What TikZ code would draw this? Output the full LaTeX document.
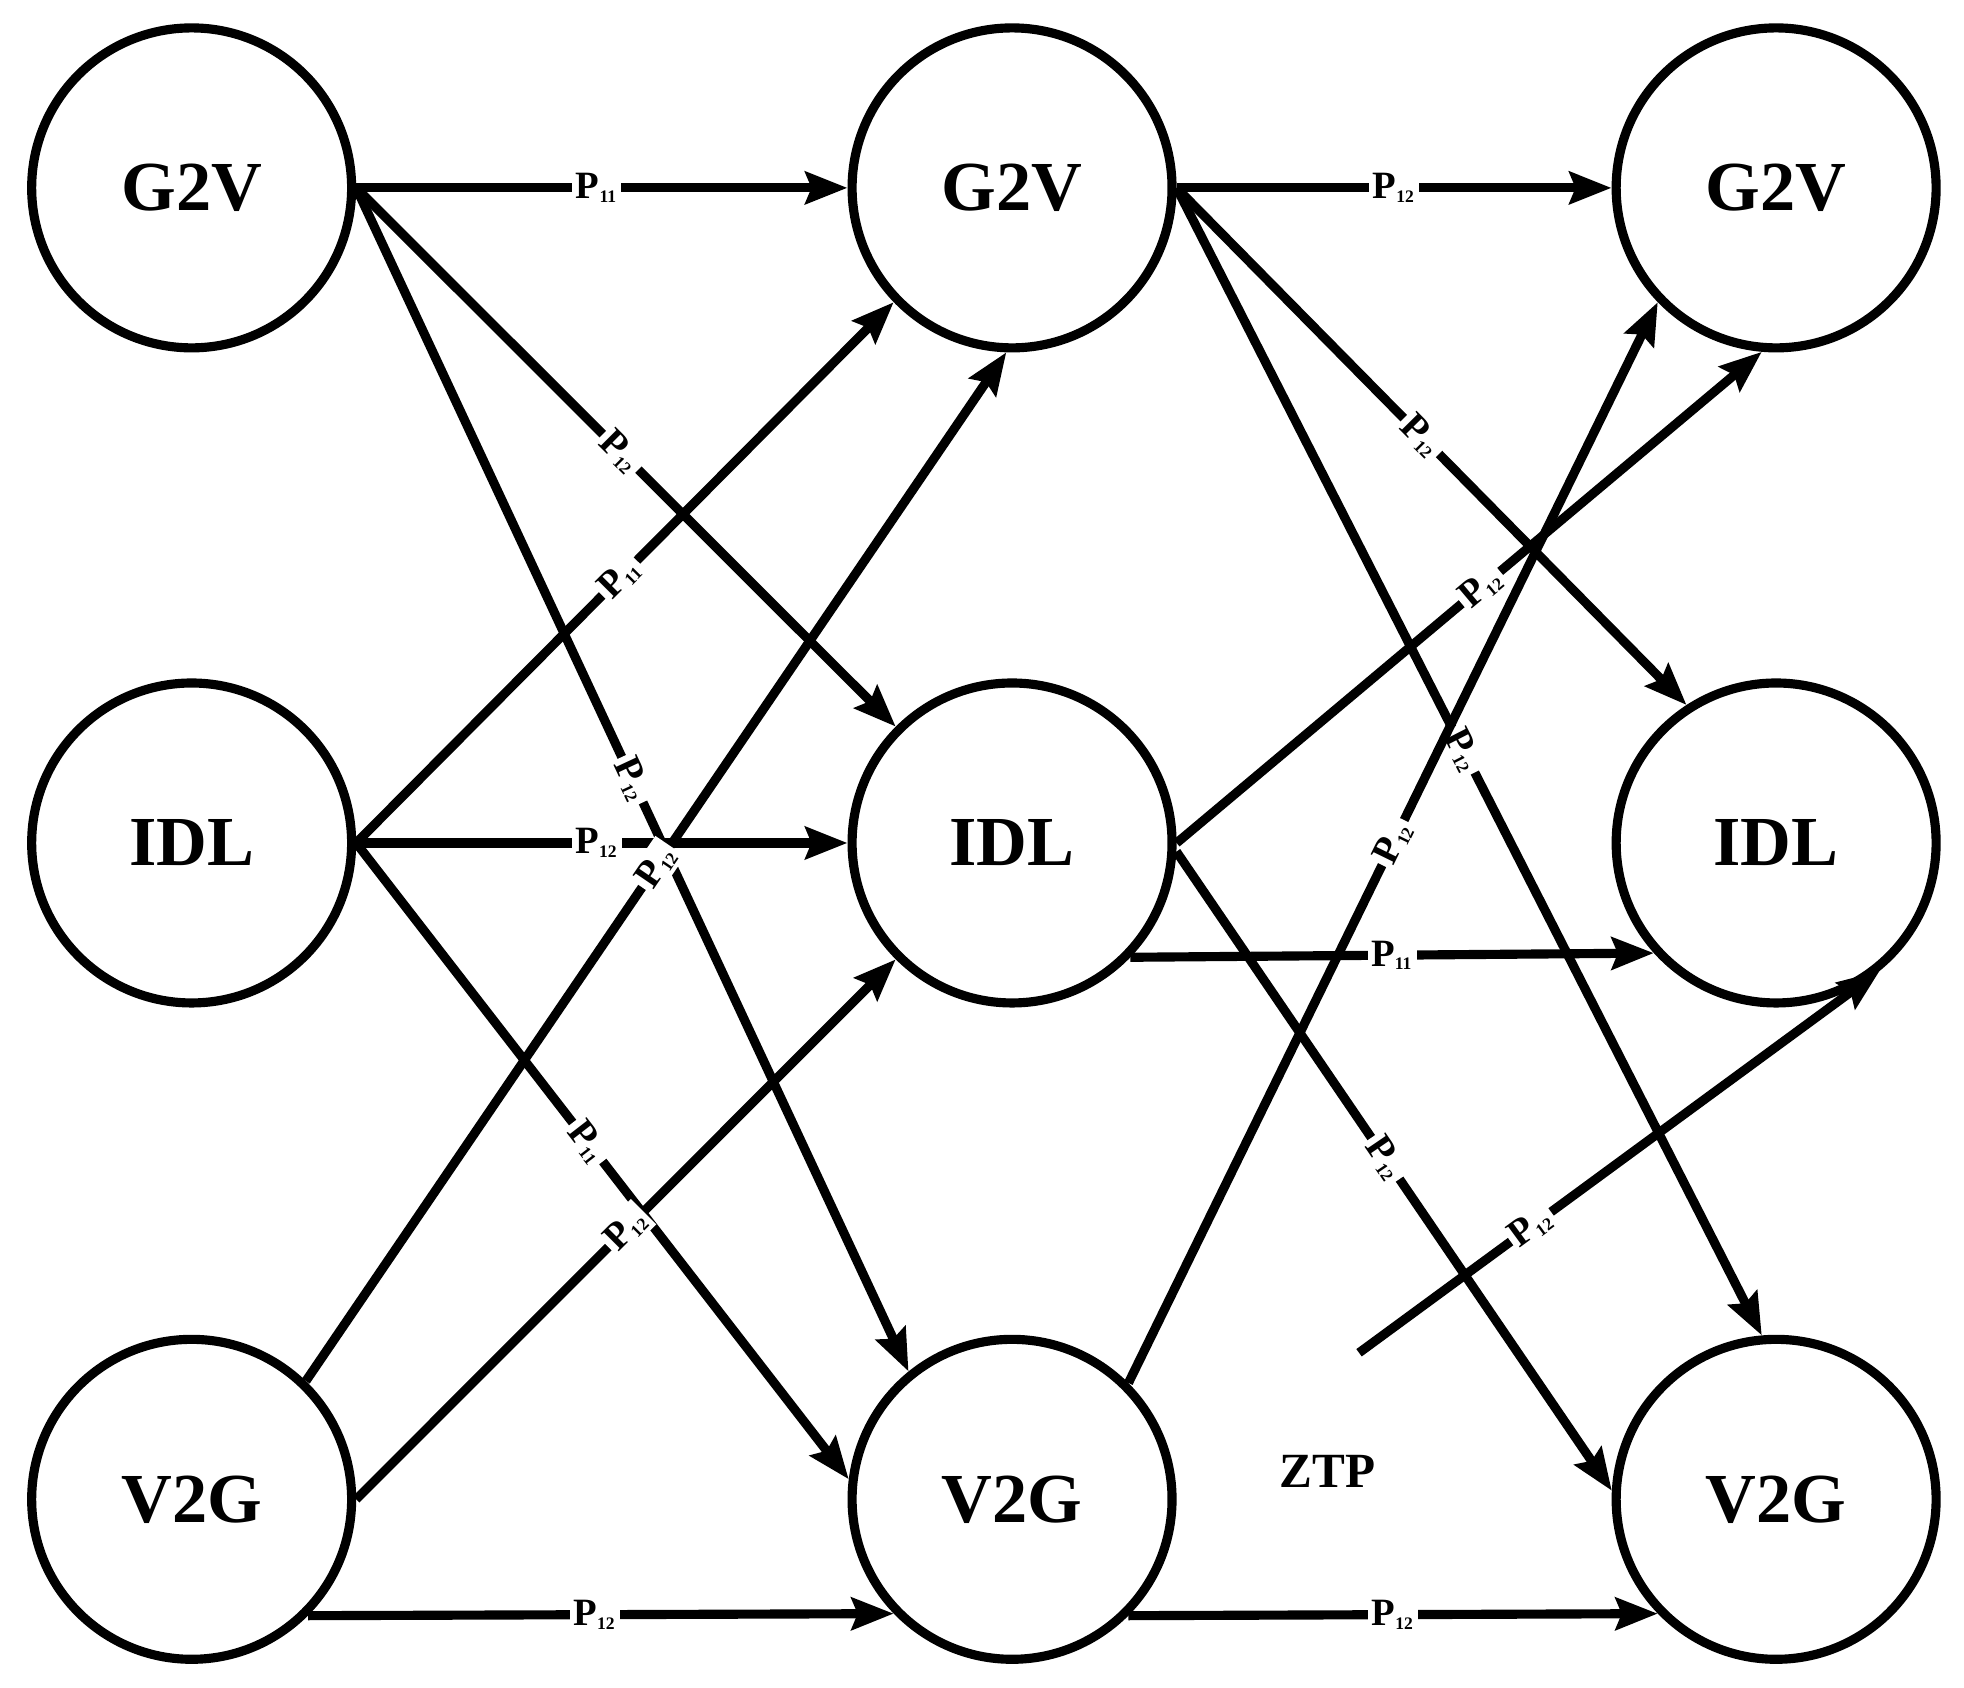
\documentclass[tikz,border=0pt]{standalone}
\usepackage{fontspec}
\setmainfont{Liberation Serif}
\usetikzlibrary{arrows.meta}
\begin{document}
\begin{tikzpicture}[x=0.012526cm,y=-0.012526cm,
  st/.style={circle,draw,line width=2.6pt,minimum size=3.2cm,inner sep=0pt,font=\fontsize{20}{22}\selectfont\bfseries},
  ed/.style={line width=2.6pt,-{Stealth[length=0.42cm,width=0.32cm,inset=0.06cm]}},
  lab/.style={fill=white,inner sep=1pt,font=\fontsize{11}{12}\selectfont\bfseries},
  sl/.style={lab,sloped}]
\useasboundingbox (0,0) rectangle (1568,1347.6);
\node[st] (a1) at (153,150) {G2V};
\node[st] (b1) at (153,673) {IDL};
\node[st] (c1) at (153,1197) {V2G};
\node[st] (a2) at (808,150) {G2V};
\node[st] (b2) at (808,673) {IDL};
\node[st] (c2) at (808,1197) {V2G};
\node[st] (a3) at (1418,150) {G2V};
\node[st] (b3) at (1418,673) {IDL};
\node[st] (c3) at (1418,1197) {V2G};
\node[font=\fontsize{14}{16}\selectfont\bfseries] (ztp) at (1060,1175) {ZTP};
\coordinate (free) at (1085,1080);
\def\pa{P{\scriptsize\textsubscript{11}}}
\def\pb{P{\scriptsize\textsubscript{12}}}
% column 1 -> 2
\draw[ed] (a1.0) -- node[lab,pos=0.49]{\pa} (a2.180);
\draw[ed] (a1.0) -- node[sl,pos=0.49]{\pb} (b2.135);
\draw[ed] (a1.0) -- node[sl,pos=0.5]{\pb} (c2.129);
\draw[ed] (b1.0) -- node[sl,pos=0.49]{\pa} (a2.224);
\draw[ed] (b1.0) -- node[lab,pos=0.49]{\pb} (b2.180);
\draw[ed] (b1.0) -- node[sl,pos=0.47]{\pa} (c2.173);
\draw[ed] (c1.46) -- node[sl,pos=0.5]{\pb} (a2.268);
\draw[ed] (c1.0) -- node[sl,pos=0.5]{\pb} (b2.225);
\draw[ed] (c1.315) -- node[lab,pos=0.49]{\pb} (c2.224);
% column 2 -> 3
\draw[ed] (a2.0) -- node[lab,pos=0.5]{\pb} (a3.180);
\draw[ed] (a2.0) -- node[sl,pos=0.48]{\pb} (b3.123);
\draw[ed] (a2.0) -- node[sl,pos=0.49]{\pb} (c3.95);
\draw[ed] (b2.0) -- node[sl,pos=0.52]{\pb} (a3.265);
\draw[ed] (b2.316) -- node[lab,pos=0.5]{\pa} (b3.222);
\draw[ed] (b2.357) -- node[sl,pos=0.48]{\pb} (c3.177);
\draw[ed] (c2.45) -- node[sl,pos=0.5]{\pb} (a3.224);
\draw[ed] (c2.315) -- node[lab,pos=0.5]{\pb} (c3.224);
\draw[ed] (free) -- node[sl,pos=0.33]{\pb} (b3.309);
\end{tikzpicture}
\end{document}
